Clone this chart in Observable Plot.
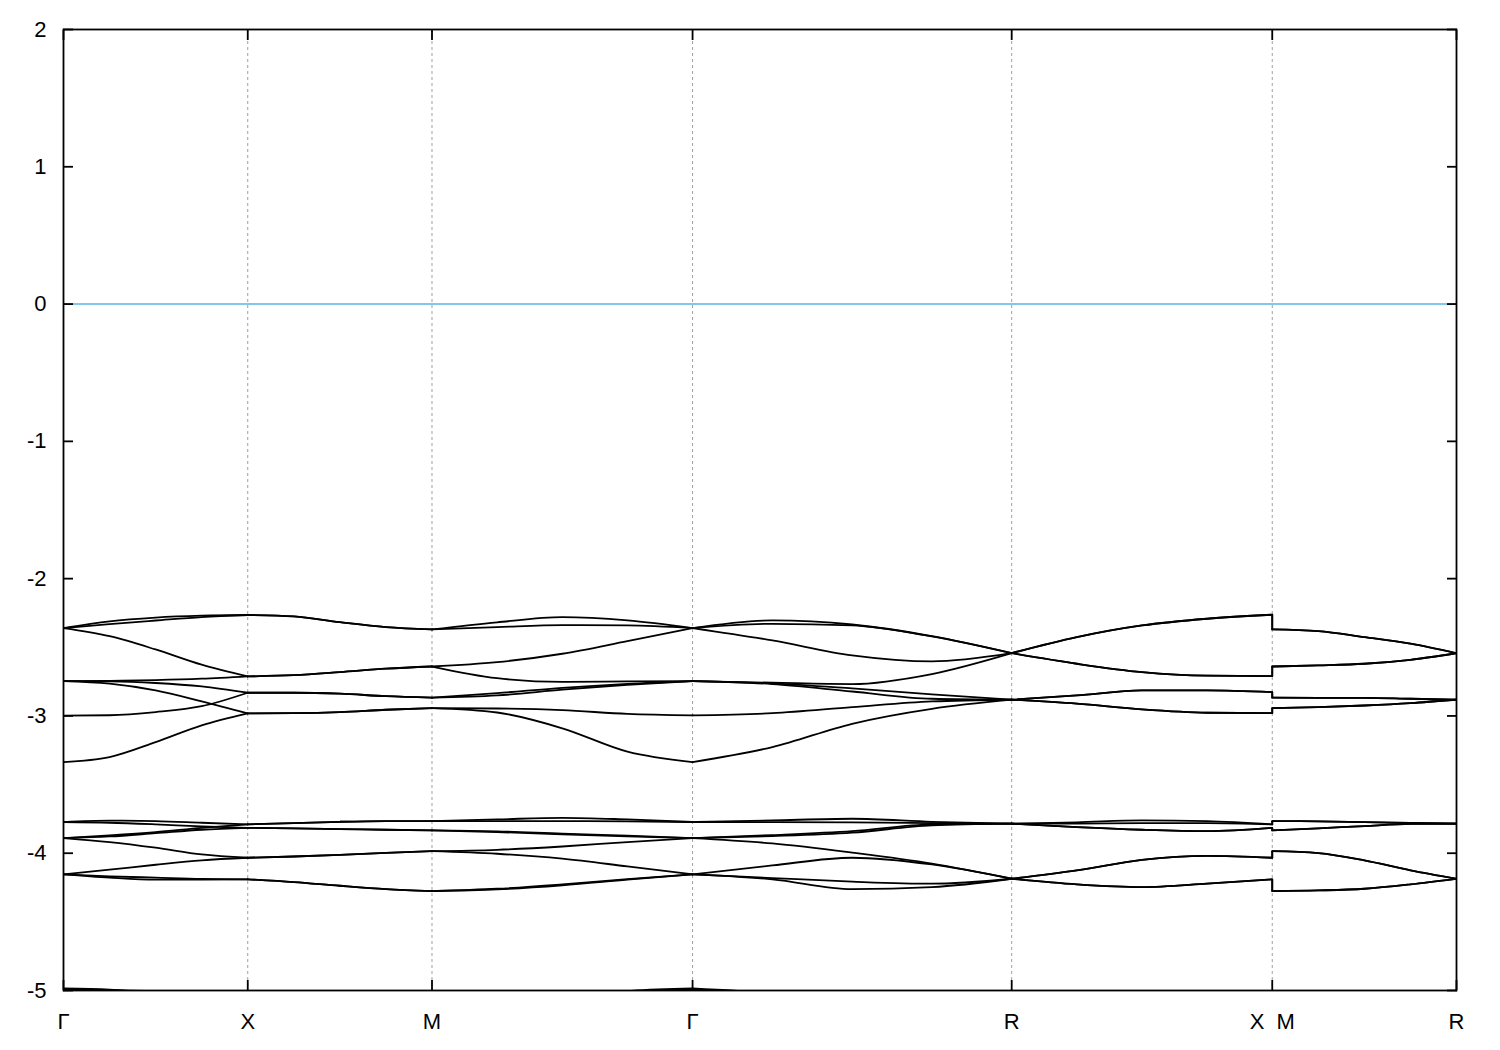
<!DOCTYPE html>
<html><head><meta charset="utf-8">
<script src="https://cdn.jsdelivr.net/npm/d3@7"></script>
<script src="https://cdn.jsdelivr.net/npm/@observablehq/plot@0.6"></script>
<style>body{margin:0;background:#fff} svg{display:block}</style>
</head><body><div id="chart"></div>
<script>
// high-symmetry points (path distance) and labels
const kTicks = [0, 0.5, 1.0, 1.7071, 2.5731, 3.2802, 3.7802];
const kLabels = ["Γ", "X", "M", "Γ", "R", "X\u00a0\u00a0M", "R"];
const yTicks = [-5, -4, -3, -2, -1, 0, 1, 2];

// sample k positions along Γ-X | X-M | M-Γ | Γ-R | R-X || M-R
const kPath = [0, 0.125, 0.25, 0.375, 0.5,
  0.625, 0.75, 0.875, 1.0,
  1.1768, 1.3536, 1.5303, 1.7071,
  1.9236, 2.1401, 2.3566, 2.5731,
  2.7499, 2.9266, 3.1034, 3.2802,
  3.2802, 3.4052, 3.5302, 3.6552, 3.7802];

// upper band group
const bandA = [-2.36, -2.311, -2.284, -2.270, -2.265, -2.275, -2.317, -2.353, -2.37, -2.318, -2.28, -2.304, -2.36, -2.304, -2.334, -2.419, -2.543, -2.426, -2.341, -2.292, -2.263, -2.37, -2.382, -2.426, -2.474, -2.543];
const bandB = [-2.36, -2.331, -2.305, -2.28, -2.265, -2.275, -2.317, -2.353, -2.37, -2.353, -2.338, -2.341, -2.36, -2.329, -2.341, -2.421, -2.543, -2.426, -2.341, -2.292, -2.263, -2.37, -2.382, -2.426, -2.474, -2.543];
const bandC = [-2.36, -2.419, -2.516, -2.627, -2.712, -2.703, -2.681, -2.656, -2.640, -2.608, -2.547, -2.455, -2.36, -2.45, -2.559, -2.603, -2.543, -2.62, -2.681, -2.707, -2.71, -2.64, -2.632, -2.62, -2.591, -2.543];
const bandD = [-2.746, -2.744, -2.739, -2.729, -2.712, -2.703, -2.681, -2.656, -2.640, -2.725, -2.752, -2.748, -2.746, -2.758, -2.768, -2.695, -2.543, -2.62, -2.681, -2.707, -2.71, -2.64, -2.632, -2.62, -2.591, -2.543];
const bandE = [-2.746, -2.765, -2.814, -2.894, -2.982, -2.98, -2.972, -2.955, -2.943, -2.946, -2.958, -2.985, -2.996, -2.98, -2.936, -2.894, -2.882, -2.911, -2.953, -2.977, -2.98, -2.943, -2.936, -2.924, -2.907, -2.882];
const bandF = [-2.998, -2.995, -2.972, -2.929, -2.831, -2.831, -2.838, -2.856, -2.867, -2.834, -2.795, -2.766, -2.746, -2.768, -2.822, -2.875, -2.882, -2.851, -2.814, -2.814, -2.826, -2.867, -2.868, -2.868, -2.875, -2.882];
const bandG = [-3.336, -3.30, -3.191, -3.069, -2.982, -2.98, -2.972, -2.955, -2.943, -2.975, -3.09, -3.26, -3.336, -3.227, -3.057, -2.948, -2.882, -2.911, -2.953, -2.977, -2.98, -2.943, -2.936, -2.924, -2.907, -2.882];
const bandH = [-2.746, -2.748, -2.76, -2.785, -2.831, -2.831, -2.838, -2.856, -2.867, -2.851, -2.809, -2.773, -2.746, -2.763, -2.80, -2.843, -2.882, -2.851, -2.814, -2.814, -2.826, -2.867, -2.868, -2.868, -2.875, -2.882];

// lower band group
const bandL1 = [-3.773, -3.763, -3.766, -3.778, -3.79, -3.781, -3.771, -3.766, -3.766, -3.754, -3.742, -3.754, -3.773, -3.761, -3.749, -3.771, -3.785, -3.775, -3.761, -3.766, -3.79, -3.766, -3.768, -3.773, -3.78, -3.785];
const bandL2 = [-3.773, -3.778, -3.79, -3.805, -3.815, -3.819, -3.824, -3.829, -3.834, -3.846, -3.863, -3.878, -3.89, -3.875, -3.85, -3.797, -3.785, -3.81, -3.829, -3.839, -3.815, -3.834, -3.819, -3.802, -3.787, -3.785];
const bandL3 = [-3.89, -3.87, -3.846, -3.815, -3.79, -3.781, -3.771, -3.766, -3.766, -3.766, -3.766, -3.768, -3.773, -3.773, -3.775, -3.781, -3.785, -3.785, -3.781, -3.781, -3.79, -3.766, -3.768, -3.773, -3.78, -3.785];
const bandL4 = [-3.89, -3.878, -3.854, -3.829, -3.815, -3.819, -3.824, -3.829, -3.834, -3.841, -3.858, -3.872, -3.89, -3.868, -3.839, -3.79, -3.785, -3.81, -3.829, -3.839, -3.815, -3.834, -3.819, -3.802, -3.787, -3.785];
const bandL5 = [-3.89, -3.919, -3.96, -4.009, -4.033, -4.024, -4.012, -3.997, -3.985, -3.975, -3.951, -3.919, -3.89, -3.929, -3.996, -4.076, -4.186, -4.125, -4.048, -4.019, -4.033, -3.985, -3.999, -4.052, -4.125, -4.186];
const bandL6 = [-4.154, -4.12, -4.084, -4.052, -4.033, -4.024, -4.012, -3.997, -3.985, -4.004, -4.04, -4.096, -4.154, -4.089, -4.033, -4.082, -4.186, -4.125, -4.048, -4.019, -4.033, -3.985, -3.999, -4.052, -4.125, -4.186];
const bandL7 = [-4.154, -4.178, -4.193, -4.193, -4.19, -4.21, -4.237, -4.261, -4.276, -4.259, -4.227, -4.188, -4.154, -4.19, -4.261, -4.247, -4.186, -4.227, -4.247, -4.222, -4.19, -4.276, -4.271, -4.259, -4.227, -4.186];
const bandL8 = [-4.154, -4.168, -4.178, -4.188, -4.19, -4.21, -4.237, -4.261, -4.276, -4.264, -4.234, -4.193, -4.154, -4.181, -4.207, -4.222, -4.186, -4.227, -4.247, -4.222, -4.19, -4.276, -4.271, -4.259, -4.227, -4.186];

// bands just touching the bottom of the window (mostly below -5)
const bandZ1 = [-4.985, -4.993, -5.03, -5.10, -5.15, -5.2, -5.25, -5.25, -5.25, -5.2, -5.1, -5.005, -4.985, -5.02, -5.08, -5.15, -5.2, -5.2, -5.2, -5.2, -5.2, -5.25, -5.25, -5.25, -5.25, -5.2];
const bandZ2 = [-4.992, -4.997, -5.004, -5.08, -5.15, -5.2, -5.25, -5.25, -5.25, -5.2, -5.1, -5.01, -4.992, -5.025, -5.08, -5.15, -5.2, -5.2, -5.2, -5.2, -5.2, -5.25, -5.25, -5.25, -5.25, -5.2];

const bandList = [bandA, bandB, bandC, bandD, bandE, bandF, bandG, bandH,
  bandL1, bandL2, bandL3, bandL4, bandL5, bandL6, bandL7, bandL8, bandZ1, bandZ2];

// segment index ranges within kPath (last one starts after the X|M jump)
const segRanges = [[0, 4], [4, 8], [8, 12], [12, 16], [16, 20], [21, 25]];

const rows = [];
const jumps = [];
bandList.forEach((b, bi) => {
  segRanges.forEach(([s, e], si) => {
    for (let i = s; i <= e; i++) rows.push({k: kPath[i], e: b[i], z: bi + "-" + si});
  });
  jumps.push({k: kPath[20], e1: b[20], e2: b[21]});
});

const xLabelRows = kTicks.map((k, i) => ({k, label: kLabels[i]}));
const kMax = kTicks[kTicks.length - 1];
const font = "Liberation Sans, Arial, sans-serif";

const chart = Plot.plot({
  width: 1500,
  height: 1050,
  marginLeft: 63,
  marginRight: 44,
  marginTop: 29,
  marginBottom: 60,
  x: {domain: [0, kMax], axis: null},
  y: {domain: [-5, 2], axis: null},
  style: {background: "#fff", color: "#000"},
  marks: [
    Plot.ruleX(kTicks.slice(1, -1), {stroke: "#a0a0a0", strokeWidth: 1, strokeDasharray: "3,3"}),
    Plot.ruleY([0], {stroke: "#56b4e9", strokeWidth: 1.5}),
    Plot.line(rows, {x: "k", y: "e", z: "z", curve: "monotone-x", stroke: "#000", strokeWidth: 1.8, clip: true}),
    Plot.link(jumps, {x1: "k", x2: "k", y1: "e1", y2: "e2", stroke: "#000", strokeWidth: 1.8, clip: true}),
    // inward tick marks on all four sides
    Plot.axisY(yTicks, {anchor: "left", tickSize: 10, dx: 10, fill: "none", stroke: "#000", strokeWidth: 1.8, label: null}),
    Plot.axisY(yTicks, {anchor: "right", tickSize: 10, dx: -10, fill: "none", stroke: "#000", strokeWidth: 1.8, label: null}),
    Plot.axisX(kTicks, {anchor: "bottom", tickSize: 10, dy: -10, fill: "none", stroke: "#000", strokeWidth: 1.8, label: null}),
    Plot.axisX(kTicks, {anchor: "top", tickSize: 10, dy: 10, fill: "none", stroke: "#000", strokeWidth: 1.8, label: null}),
    Plot.frame({stroke: "#000", strokeWidth: 1.8}),
    // tick labels
    Plot.text(yTicks, {x: 0, y: d => d, text: d => String(d), textAnchor: "end", dx: -17, fontSize: 22, fontFamily: font, fill: "#000"}),
    Plot.text(xLabelRows, {x: "k", y: -5, text: "label", dy: 31, fontSize: 22, fontFamily: font, fill: "#000"})
  ]
});
document.getElementById("chart").appendChild(chart);
</script>
</body></html>
